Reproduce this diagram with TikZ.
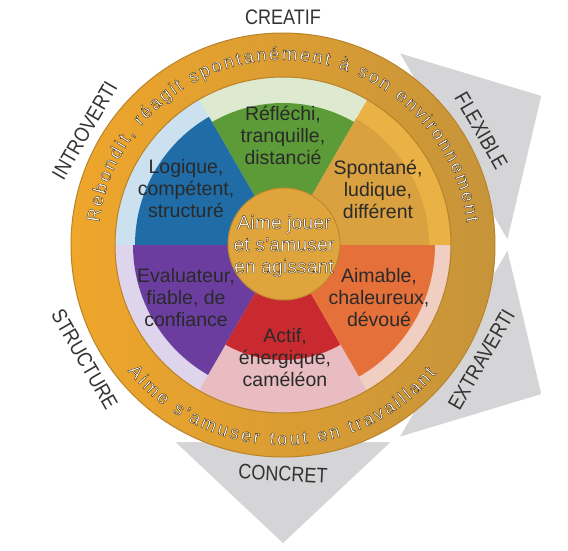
\documentclass[tikz,border=0pt]{standalone}
\usepackage{fontspec}
\setmainfont{Liberation Sans}
\newfontfamily\lblfont{Liberation Sans}[FakeStretch=0.86]
\usetikzlibrary{decorations.text}
\definecolor{ringA}{HTML}{EFA62B}
\definecolor{ringB}{HTML}{C6943A}
\definecolor{ringedge}{HTML}{B9832A}
\definecolor{piecegray}{HTML}{D5D5D7}
\definecolor{labelgray}{HTML}{333333}
\definecolor{textdark}{HTML}{2A2A2A}
\definecolor{yelS}{HTML}{DAA141}
\definecolor{yelP}{HTML}{EAB244}
\definecolor{grnS}{HTML}{5C9B37}
\definecolor{grnP}{HTML}{DDEAD0}
\definecolor{bluS}{HTML}{1F6CA6}
\definecolor{bluP}{HTML}{CCE1EF}
\definecolor{purS}{HTML}{6A3D9E}
\definecolor{purP}{HTML}{DED4EB}
\definecolor{redS}{HTML}{C92A2F}
\definecolor{redP}{HTML}{E8BCC0}
\definecolor{orgS}{HTML}{E5703A}
\definecolor{orgP}{HTML}{F0CFC2}
\definecolor{ctrC}{HTML}{DFA43C}
\definecolor{ctrE}{HTML}{BC8A30}
\newcommand\mysector[4]{\fill[#1] (0,0) -- (#2:#4) arc[start angle=#2,end angle=#3,radius=#4] -- cycle;}
\newcommand\outlon{\special{pdf:code 1 1 1 rg 0.30 0.21 0.07 RG 0.4 w 2 Tr}}
\newcommand\outloff{\special{pdf:code 0 Tr}}
\begin{document}
\begin{tikzpicture}[x=1pt,y=1pt,
  lbl/.style={text=labelgray,font=\lblfont\fontsize{21}{21}\selectfont,inner sep=0pt},
  sectxt/.style={text=textdark,align=center,font=\fontsize{19.5}{22}\selectfont,inner sep=0pt},
  piece/.style={fill=piecegray,draw=white,line width=2.5pt,line join=miter},
  ctrtxt/.style={align=center,font=\fontsize{19.5}{22}\selectfont,inner sep=0pt}]
\useasboundingbox (-283,-305) rectangle (285,245);
% grey arrow pieces
\path[piece] (59.5:225) -- (30:300) -- (0.5:225) -- cycle;
\path[piece] (-0.5:225) -- (-30:300) -- (-59.5:225) -- cycle;
\path[piece] (-60.5:225) -- (-90:300) -- (-119.5:225) -- cycle;
% pale sectors
\mysector{yelP}{0}{60}{170}
\mysector{grnP}{60}{120}{170}
\mysector{bluP}{120}{180}{170}
\mysector{purP}{180}{240}{170}
\mysector{redP}{240}{300}{170}
\mysector{orgP}{300}{360}{170}
% saturated sectors
\mysector{yelS}{0}{60}{146}
\mysector{grnS}{60}{120}{142}
\mysector{bluS}{120}{180}{148}
\mysector{purS}{180}{240}{150}
\mysector{redS}{240}{300}{115}
\mysector{orgS}{300}{360}{152}
% ring
\shade[even odd rule,left color=ringA,middle color=ringA!85!ringB,right color=ringB]
  (0,0) circle[radius=212] (0,0) circle[radius=168];
\draw[ringedge,line width=1pt] (0,0) circle[radius=212];
\draw[ringedge,line width=1pt] (0,0) circle[radius=168];
% centre
\node[circle,minimum size=112pt,fill=ctrC,draw=ctrE,line width=1pt] (ctr) at (1,1) {};
% ring texts
\path[decorate,decoration={text along path,text color=white,text align={fit to path},
  text={|\fontsize{18.5}{18.5}\selectfont\outlon|Rebondit, réagit spontanément à son environnement}}]
  (173:185) arc[start angle=173,end angle=7,radius=185];
\path[decorate,decoration={text along path,text color=white,text align={fit to path},
  text={|\fontsize{18.5}{18.5}\selectfont\outlon|Aime s'amuser tout en travaillant}}]
  (-141:200) arc[start angle=-141,end angle=-40,radius=200];
\node[ctrtxt,text=white] (ct) at (1,-1) {\outlon Aime jouer\\et s'amuser\\en agissant\outloff};
% sector texts
\node[sectxt] (t1) at (0,110) {Réfléchi,\\tranquille,\\distancié};
\node[sectxt] (t2) at (-97,56) {Logique,\\compétent,\\structuré};
\node[sectxt] (t3) at (95,56) {Spontané,\\ludique,\\différent};
\node[sectxt] (t4) at (-97,-53) {Evaluateur,\\fiable, de\\confiance};
\node[sectxt] (t5) at (96,-53) {Aimable,\\chaleureux,\\dévoué};
\node[sectxt] (t6) at (2,-113) {Actif,\\énergique,\\caméléon};
% outer labels
\node[lbl] (creatif) at (90:228) {CREATIF};
\node[lbl,rotate=-60] (flexible) at (30:229) {FLEXIBLE};
\node[lbl,rotate=60] (extraverti) at (-30:229) {EXTRAVERTI};
\node[lbl,rotate=-3] (concret) at (-90:229) {CONCRET};
\node[lbl,rotate=-60] (structure) at (-150:229) {STRUCTURE};
\node[lbl,rotate=60] (introverti) at (150:229) {INTROVERTI};
\end{tikzpicture}
\end{document}
